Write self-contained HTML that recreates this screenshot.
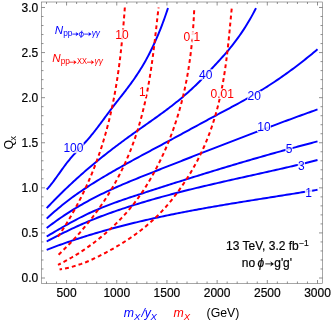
<!DOCTYPE html>
<html><head><meta charset="utf-8"><title>plot</title>
<style>html,body{margin:0;padding:0;background:#fff;}svg{display:block;will-change:transform;}text{font-family:"Liberation Sans",sans-serif;}</style></head><body>
<svg width="332" height="324" viewBox="0 0 332 324">
<rect width="332" height="324" fill="#fff"/>
<g fill="none" stroke="#0000ff" stroke-width="1.95" stroke-linecap="butt" stroke-linejoin="round">
<path d="M46.70,189.47 L47.57,188.55 L48.45,187.59 L49.32,186.58 L50.19,185.54 L51.06,184.47 L51.94,183.36 L52.81,182.23 L53.68,181.07 L54.55,179.89 L55.43,178.70 L56.30,177.49 L57.17,176.27 L58.04,175.05 L58.92,173.82 L59.79,172.59 L60.66,171.36 L61.54,170.13 L62.41,168.92 L63.28,167.71 L64.15,166.51 L65.03,165.33 L65.90,164.17 L66.77,163.03 L67.64,161.92 L68.52,160.83 L69.39,159.76 L70.26,158.71 L71.13,157.69 L72.01,156.67 L72.88,155.68 L73.75,154.70 L74.63,153.73 L75.50,152.77 L76.37,151.82 L77.24,150.88 L78.12,149.95 L78.99,149.02 L79.86,148.09 L80.73,147.16 L81.61,146.23 L82.48,145.30 L83.35,144.36 L84.22,143.42 L85.10,142.47 L85.97,141.52 L86.84,140.55 L87.72,139.57 L88.59,138.57 L89.46,137.56 L90.33,136.53 L91.21,135.48 L92.08,134.42 L92.95,133.34 L93.82,132.24 L94.70,131.14 L95.57,130.02 L96.44,128.88 L97.31,127.74 L98.19,126.59 L99.06,125.43 L99.93,124.26 L100.81,123.09 L101.68,121.92 L102.55,120.73 L103.42,119.55 L104.30,118.37 L105.17,117.18 L106.04,116.00 L106.91,114.82 L107.79,113.64 L108.66,112.47 L109.53,111.30 L110.40,110.14 L111.28,108.99 L112.15,107.84 L113.02,106.70 L113.89,105.57 L114.77,104.45 L115.64,103.33 L116.51,102.21 L117.39,101.10 L118.26,99.99 L119.13,98.88 L120.00,97.77 L120.88,96.66 L121.75,95.54 L122.62,94.43 L123.49,93.31 L124.37,92.18 L125.24,91.05 L126.11,89.91 L126.98,88.77 L127.86,87.61 L128.73,86.45 L129.60,85.27 L130.48,84.09 L131.35,82.89 L132.22,81.67 L133.09,80.45 L133.97,79.20 L134.84,77.94 L135.71,76.66 L136.58,75.37 L137.46,74.05 L138.33,72.71 L139.20,71.36 L140.07,69.98 L140.95,68.57 L141.82,67.14 L142.69,65.69 L143.57,64.21 L144.44,62.70 L145.31,61.16 L146.18,59.60 L147.06,58.00 L147.93,56.38 L148.80,54.72 L149.67,53.02 L150.55,51.30 L151.42,49.53 L152.29,47.74 L153.16,45.90 L154.04,44.03 L154.91,42.11 L155.78,40.16 L156.66,38.17 L157.53,36.13 L158.40,34.05 L159.27,31.93 L160.15,29.76 L161.02,27.54 L161.89,25.28 L162.76,22.97 L163.64,20.62 L164.51,18.21 L165.38,15.75 L166.25,13.24 L167.13,10.67 L168.00,8.06"/>
<path d="M46.70,208.15 L48.21,206.54 L49.71,204.96 L51.22,203.38 L52.72,201.82 L54.23,200.27 L55.73,198.74 L57.24,197.22 L58.75,195.71 L60.25,194.22 L61.76,192.73 L63.26,191.26 L64.77,189.80 L66.27,188.36 L67.78,186.92 L69.29,185.50 L70.79,184.09 L72.30,182.69 L73.80,181.30 L75.31,179.93 L76.82,178.56 L78.32,177.20 L79.83,175.86 L81.33,174.52 L82.84,173.20 L84.34,171.89 L85.85,170.58 L87.36,169.29 L88.86,168.00 L90.37,166.72 L91.87,165.46 L93.38,164.20 L94.88,162.95 L96.39,161.71 L97.90,160.48 L99.40,159.26 L100.91,158.04 L102.41,156.83 L103.92,155.63 L105.42,154.44 L106.93,153.26 L108.44,152.08 L109.94,150.91 L111.45,149.75 L112.95,148.59 L114.46,147.45 L115.96,146.30 L117.47,145.17 L118.98,144.04 L120.48,142.91 L121.99,141.79 L123.49,140.68 L125.00,139.57 L126.51,138.47 L128.01,137.37 L129.52,136.28 L131.02,135.20 L132.53,134.11 L134.03,133.04 L135.54,131.96 L137.05,130.89 L138.55,129.83 L140.06,128.76 L141.56,127.70 L143.07,126.65 L144.57,125.59 L146.08,124.53 L147.59,123.47 L149.09,122.41 L150.60,121.35 L152.10,120.29 L153.61,119.22 L155.11,118.15 L156.62,117.08 L158.13,116.00 L159.63,114.91 L161.14,113.82 L162.64,112.72 L164.15,111.61 L165.65,110.49 L167.16,109.37 L168.67,108.23 L170.17,107.08 L171.68,105.92 L173.18,104.75 L174.69,103.56 L176.19,102.36 L177.70,101.15 L179.21,99.92 L180.71,98.67 L182.22,97.41 L183.72,96.13 L185.23,94.83 L186.74,93.52 L188.24,92.18 L189.75,90.82 L191.25,89.45 L192.76,88.05 L194.26,86.63 L195.77,85.18 L197.28,83.72 L198.78,82.22 L200.29,80.71 L201.79,79.16 L203.30,77.60 L204.80,76.03 L206.31,74.44 L207.82,72.83 L209.32,71.23 L210.83,69.62 L212.33,68.00 L213.84,66.39 L215.34,64.77 L216.85,63.15 L218.36,61.51 L219.86,59.87 L221.37,58.20 L222.87,56.52 L224.38,54.81 L225.88,53.08 L227.39,51.32 L228.90,49.52 L230.40,47.69 L231.91,45.82 L233.41,43.92 L234.92,41.96 L236.43,39.96 L237.93,37.91 L239.44,35.80 L240.94,33.64 L242.45,31.41 L243.95,29.13 L245.46,26.77 L246.97,24.35 L248.47,21.85 L249.98,19.27 L251.48,16.61 L252.99,13.86 L254.49,11.03 L256.00,8.10"/>
<path d="M46.70,218.63 L48.65,216.82 L50.60,215.04 L52.54,213.30 L54.49,211.59 L56.44,209.91 L58.39,208.27 L60.34,206.65 L62.29,205.07 L64.23,203.52 L66.18,201.99 L68.13,200.49 L70.08,199.02 L72.03,197.58 L73.97,196.15 L75.92,194.76 L77.87,193.38 L79.82,192.03 L81.77,190.69 L83.72,189.38 L85.66,188.08 L87.61,186.81 L89.56,185.55 L91.51,184.30 L93.46,183.08 L95.41,181.86 L97.35,180.66 L99.30,179.47 L101.25,178.29 L103.20,177.12 L105.15,175.97 L107.09,174.82 L109.04,173.67 L110.99,172.54 L112.94,171.41 L114.89,170.30 L116.84,169.18 L118.78,168.08 L120.73,166.98 L122.68,165.88 L124.63,164.80 L126.58,163.71 L128.52,162.64 L130.47,161.56 L132.42,160.50 L134.37,159.43 L136.32,158.37 L138.27,157.31 L140.21,156.26 L142.16,155.21 L144.11,154.16 L146.06,153.11 L148.01,152.06 L149.95,151.02 L151.90,149.98 L153.85,148.94 L155.80,147.89 L157.75,146.85 L159.70,145.81 L161.64,144.77 L163.59,143.72 L165.54,142.68 L167.49,141.64 L169.44,140.59 L171.38,139.54 L173.33,138.49 L175.28,137.43 L177.23,136.38 L179.18,135.32 L181.13,134.27 L183.07,133.21 L185.02,132.15 L186.97,131.09 L188.92,130.03 L190.87,128.98 L192.82,127.92 L194.76,126.86 L196.71,125.80 L198.66,124.74 L200.61,123.69 L202.56,122.63 L204.50,121.58 L206.45,120.52 L208.40,119.47 L210.35,118.42 L212.30,117.38 L214.25,116.33 L216.19,115.29 L218.14,114.25 L220.09,113.21 L222.04,112.17 L223.99,111.14 L225.93,110.10 L227.88,109.06 L229.83,108.02 L231.78,106.97 L233.73,105.93 L235.68,104.87 L237.62,103.82 L239.57,102.75 L241.52,101.68 L243.47,100.60 L245.42,99.52 L247.36,98.42 L249.31,97.31 L251.26,96.20 L253.21,95.07 L255.16,93.93 L257.11,92.78 L259.05,91.61 L261.00,90.43 L262.95,89.23 L264.90,88.02 L266.85,86.80 L268.79,85.55 L270.74,84.30 L272.69,83.02 L274.64,81.73 L276.59,80.43 L278.54,79.10 L280.48,77.77 L282.43,76.41 L284.38,75.04 L286.33,73.65 L288.28,72.24 L290.23,70.82 L292.17,69.39 L294.12,67.93 L296.07,66.46 L298.02,64.98 L299.97,63.48 L301.91,61.96 L303.86,60.43 L305.81,58.88 L307.76,57.31 L309.71,55.73 L311.66,54.14 L313.60,52.53 L315.55,50.90 L317.50,49.26"/>
<path d="M46.70,228.06 L48.65,226.55 L50.60,225.07 L52.54,223.61 L54.49,222.18 L56.44,220.77 L58.39,219.38 L60.34,218.03 L62.29,216.69 L64.23,215.38 L66.18,214.09 L68.13,212.82 L70.08,211.58 L72.03,210.36 L73.97,209.16 L75.92,207.97 L77.87,206.81 L79.82,205.67 L81.77,204.55 L83.72,203.44 L85.66,202.35 L87.61,201.28 L89.56,200.23 L91.51,199.20 L93.46,198.18 L95.41,197.17 L97.35,196.18 L99.30,195.21 L101.25,194.24 L103.20,193.30 L105.15,192.36 L107.09,191.44 L109.04,190.53 L110.99,189.63 L112.94,188.74 L114.89,187.87 L116.84,187.00 L118.78,186.14 L120.73,185.29 L122.68,184.46 L124.63,183.62 L126.58,182.80 L128.52,181.98 L130.47,181.17 L132.42,180.37 L134.37,179.57 L136.32,178.78 L138.27,177.99 L140.21,177.20 L142.16,176.42 L144.11,175.64 L146.06,174.87 L148.01,174.10 L149.95,173.33 L151.90,172.56 L153.85,171.79 L155.80,171.02 L157.75,170.25 L159.70,169.48 L161.64,168.71 L163.59,167.94 L165.54,167.17 L167.49,166.41 L169.44,165.64 L171.38,164.87 L173.33,164.10 L175.28,163.34 L177.23,162.57 L179.18,161.81 L181.13,161.04 L183.07,160.27 L185.02,159.51 L186.97,158.74 L188.92,157.98 L190.87,157.22 L192.82,156.45 L194.76,155.69 L196.71,154.93 L198.66,154.17 L200.61,153.40 L202.56,152.64 L204.50,151.88 L206.45,151.12 L208.40,150.37 L210.35,149.61 L212.30,148.85 L214.25,148.09 L216.19,147.34 L218.14,146.58 L220.09,145.83 L222.04,145.07 L223.99,144.32 L225.93,143.57 L227.88,142.82 L229.83,142.06 L231.78,141.31 L233.73,140.57 L235.68,139.82 L237.62,139.07 L239.57,138.32 L241.52,137.58 L243.47,136.83 L245.42,136.09 L247.36,135.35 L249.31,134.61 L251.26,133.87 L253.21,133.13 L255.16,132.39 L257.11,131.65 L259.05,130.91 L261.00,130.18 L262.95,129.45 L264.90,128.71 L266.85,127.98 L268.79,127.25 L270.74,126.52 L272.69,125.79 L274.64,125.07 L276.59,124.34 L278.54,123.62 L280.48,122.89 L282.43,122.17 L284.38,121.45 L286.33,120.73 L288.28,120.02 L290.23,119.30 L292.17,118.59 L294.12,117.87 L296.07,117.16 L298.02,116.45 L299.97,115.74 L301.91,115.04 L303.86,114.33 L305.81,113.63 L307.76,112.93 L309.71,112.22 L311.66,111.53 L313.60,110.83 L315.55,110.13 L317.50,109.44"/>
<path d="M46.70,236.52 L48.65,235.36 L50.60,234.20 L52.54,233.05 L54.49,231.90 L56.44,230.75 L58.39,229.61 L60.34,228.48 L62.29,227.35 L64.23,226.23 L66.18,225.13 L68.13,224.03 L70.08,222.95 L72.03,221.88 L73.97,220.82 L75.92,219.78 L77.87,218.75 L79.82,217.75 L81.77,216.76 L83.72,215.79 L85.66,214.84 L87.61,213.91 L89.56,213.00 L91.51,212.11 L93.46,211.24 L95.41,210.38 L97.35,209.55 L99.30,208.73 L101.25,207.92 L103.20,207.14 L105.15,206.36 L107.09,205.60 L109.04,204.86 L110.99,204.12 L112.94,203.40 L114.89,202.68 L116.84,201.98 L118.78,201.29 L120.73,200.61 L122.68,199.93 L124.63,199.26 L126.58,198.60 L128.52,197.94 L130.47,197.29 L132.42,196.64 L134.37,196.00 L136.32,195.36 L138.27,194.72 L140.21,194.09 L142.16,193.45 L144.11,192.82 L146.06,192.19 L148.01,191.55 L149.95,190.92 L151.90,190.29 L153.85,189.66 L155.80,189.03 L157.75,188.40 L159.70,187.78 L161.64,187.15 L163.59,186.53 L165.54,185.90 L167.49,185.28 L169.44,184.66 L171.38,184.04 L173.33,183.42 L175.28,182.80 L177.23,182.18 L179.18,181.56 L181.13,180.95 L183.07,180.33 L185.02,179.72 L186.97,179.10 L188.92,178.49 L190.87,177.88 L192.82,177.27 L194.76,176.67 L196.71,176.06 L198.66,175.46 L200.61,174.85 L202.56,174.25 L204.50,173.65 L206.45,173.05 L208.40,172.45 L210.35,171.85 L212.30,171.25 L214.25,170.66 L216.19,170.07 L218.14,169.47 L220.09,168.88 L222.04,168.29 L223.99,167.70 L225.93,167.12 L227.88,166.53 L229.83,165.95 L231.78,165.37 L233.73,164.79 L235.68,164.21 L237.62,163.63 L239.57,163.05 L241.52,162.48 L243.47,161.91 L245.42,161.33 L247.36,160.76 L249.31,160.20 L251.26,159.63 L253.21,159.06 L255.16,158.50 L257.11,157.94 L259.05,157.38 L261.00,156.82 L262.95,156.26 L264.90,155.71 L266.85,155.15 L268.79,154.60 L270.74,154.05 L272.69,153.50 L274.64,152.96 L276.59,152.41 L278.54,151.87 L280.48,151.33 L282.43,150.79 L284.38,150.25 L286.33,149.72 L288.28,149.19 L290.23,148.65 L292.17,148.12 L294.12,147.60 L296.07,147.07 L298.02,146.55 L299.97,146.02 L301.91,145.51 L303.86,144.99 L305.81,144.47 L307.76,143.96 L309.71,143.45 L311.66,142.94 L313.60,142.43 L315.55,141.92 L317.50,141.42"/>
<path d="M46.70,241.51 L48.65,240.48 L50.60,239.45 L52.54,238.43 L54.49,237.42 L56.44,236.41 L58.39,235.42 L60.34,234.43 L62.29,233.45 L64.23,232.48 L66.18,231.52 L68.13,230.57 L70.08,229.64 L72.03,228.71 L73.97,227.79 L75.92,226.89 L77.87,226.00 L79.82,225.12 L81.77,224.25 L83.72,223.40 L85.66,222.56 L87.61,221.73 L89.56,220.92 L91.51,220.12 L93.46,219.33 L95.41,218.55 L97.35,217.78 L99.30,217.03 L101.25,216.28 L103.20,215.55 L105.15,214.82 L107.09,214.11 L109.04,213.40 L110.99,212.71 L112.94,212.02 L114.89,211.34 L116.84,210.67 L118.78,210.00 L120.73,209.35 L122.68,208.70 L124.63,208.05 L126.58,207.41 L128.52,206.78 L130.47,206.16 L132.42,205.54 L134.37,204.93 L136.32,204.32 L138.27,203.72 L140.21,203.13 L142.16,202.54 L144.11,201.95 L146.06,201.37 L148.01,200.80 L149.95,200.23 L151.90,199.67 L153.85,199.11 L155.80,198.56 L157.75,198.01 L159.70,197.47 L161.64,196.93 L163.59,196.40 L165.54,195.87 L167.49,195.34 L169.44,194.82 L171.38,194.30 L173.33,193.79 L175.28,193.28 L177.23,192.78 L179.18,192.27 L181.13,191.78 L183.07,191.28 L185.02,190.79 L186.97,190.30 L188.92,189.82 L190.87,189.34 L192.82,188.86 L194.76,188.39 L196.71,187.91 L198.66,187.44 L200.61,186.98 L202.56,186.51 L204.50,186.05 L206.45,185.59 L208.40,185.14 L210.35,184.68 L212.30,184.23 L214.25,183.78 L216.19,183.33 L218.14,182.88 L220.09,182.43 L222.04,181.99 L223.99,181.55 L225.93,181.11 L227.88,180.67 L229.83,180.23 L231.78,179.79 L233.73,179.35 L235.68,178.92 L237.62,178.48 L239.57,178.05 L241.52,177.61 L243.47,177.18 L245.42,176.75 L247.36,176.31 L249.31,175.88 L251.26,175.45 L253.21,175.02 L255.16,174.58 L257.11,174.15 L259.05,173.72 L261.00,173.28 L262.95,172.85 L264.90,172.41 L266.85,171.98 L268.79,171.54 L270.74,171.10 L272.69,170.67 L274.64,170.23 L276.59,169.79 L278.54,169.34 L280.48,168.90 L282.43,168.46 L284.38,168.01 L286.33,167.56 L288.28,167.11 L290.23,166.66 L292.17,166.20 L294.12,165.75 L296.07,165.29 L298.02,164.83 L299.97,164.37 L301.91,163.90 L303.86,163.43 L305.81,162.96 L307.76,162.49 L309.71,162.01 L311.66,161.53 L313.60,161.05 L315.55,160.56 L317.50,160.07"/>
<path d="M46.70,249.82 L48.65,249.07 L50.60,248.33 L52.54,247.60 L54.49,246.88 L56.44,246.16 L58.39,245.45 L60.34,244.75 L62.29,244.06 L64.23,243.37 L66.18,242.69 L68.13,242.02 L70.08,241.35 L72.03,240.69 L73.97,240.04 L75.92,239.39 L77.87,238.75 L79.82,238.12 L81.77,237.49 L83.72,236.87 L85.66,236.26 L87.61,235.65 L89.56,235.05 L91.51,234.46 L93.46,233.87 L95.41,233.29 L97.35,232.71 L99.30,232.14 L101.25,231.57 L103.20,231.01 L105.15,230.46 L107.09,229.91 L109.04,229.37 L110.99,228.83 L112.94,228.30 L114.89,227.78 L116.84,227.26 L118.78,226.74 L120.73,226.23 L122.68,225.72 L124.63,225.22 L126.58,224.73 L128.52,224.24 L130.47,223.75 L132.42,223.27 L134.37,222.80 L136.32,222.33 L138.27,221.86 L140.21,221.40 L142.16,220.94 L144.11,220.49 L146.06,220.04 L148.01,219.59 L149.95,219.15 L151.90,218.72 L153.85,218.29 L155.80,217.86 L157.75,217.43 L159.70,217.01 L161.64,216.60 L163.59,216.18 L165.54,215.77 L167.49,215.37 L169.44,214.97 L171.38,214.57 L173.33,214.17 L175.28,213.78 L177.23,213.39 L179.18,213.01 L181.13,212.62 L183.07,212.25 L185.02,211.87 L186.97,211.50 L188.92,211.13 L190.87,210.76 L192.82,210.39 L194.76,210.03 L196.71,209.67 L198.66,209.32 L200.61,208.96 L202.56,208.61 L204.50,208.26 L206.45,207.91 L208.40,207.57 L210.35,207.22 L212.30,206.88 L214.25,206.54 L216.19,206.21 L218.14,205.87 L220.09,205.54 L222.04,205.21 L223.99,204.88 L225.93,204.55 L227.88,204.22 L229.83,203.90 L231.78,203.58 L233.73,203.25 L235.68,202.93 L237.62,202.61 L239.57,202.29 L241.52,201.98 L243.47,201.66 L245.42,201.35 L247.36,201.03 L249.31,200.72 L251.26,200.41 L253.21,200.09 L255.16,199.78 L257.11,199.47 L259.05,199.16 L261.00,198.85 L262.95,198.54 L264.90,198.23 L266.85,197.92 L268.79,197.62 L270.74,197.31 L272.69,197.00 L274.64,196.69 L276.59,196.38 L278.54,196.07 L280.48,195.76 L282.43,195.45 L284.38,195.14 L286.33,194.83 L288.28,194.52 L290.23,194.21 L292.17,193.90 L294.12,193.59 L296.07,193.28 L298.02,192.96 L299.97,192.65 L301.91,192.33 L303.86,192.02 L305.81,191.70 L307.76,191.38 L309.71,191.06 L311.66,190.74 L313.60,190.42 L315.55,190.09 L317.50,189.77"/>
</g>
<g fill="none" stroke="#ff0000" stroke-width="2.0" stroke-dasharray="3.9 3.1" stroke-linejoin="round">
<path d="M124.85,7.50 L124.72,9.15 L124.60,10.81 L124.47,12.46 L124.34,14.12 L124.21,15.77 L124.08,17.42 L123.95,19.08 L123.81,20.73 L123.67,22.39 L123.54,24.04 L123.39,25.69 L123.25,27.35 L123.11,29.00 L122.96,30.66 L122.81,32.31 L122.65,33.96 L122.50,35.62 L122.34,37.27 L122.18,38.93 L122.02,40.58 L121.85,42.23 L121.68,43.89 L121.51,45.54 L121.33,47.19 L121.15,48.85 L120.97,50.50 L120.79,52.16 L120.60,53.81 L120.40,55.46 L120.21,57.12 L120.01,58.77 L119.80,60.43 L119.60,62.08 L119.38,63.73 L119.17,65.39 L118.95,67.04 L118.72,68.70 L118.49,70.35 L118.26,72.00 L118.02,73.66 L117.78,75.31 L117.53,76.97 L117.28,78.62 L117.02,80.27 L116.76,81.93 L116.49,83.58 L116.22,85.24 L115.94,86.89 L115.66,88.54 L115.37,90.20 L115.08,91.85 L114.78,93.51 L114.47,95.16 L114.16,96.81 L113.84,98.47 L113.52,100.12 L113.19,101.78 L112.86,103.43 L112.52,105.08 L112.17,106.74 L111.82,108.39 L111.46,110.05 L111.09,111.70 L110.72,113.35 L110.34,115.01 L109.95,116.66 L109.56,118.32 L109.15,119.97 L108.75,121.62 L108.33,123.28 L107.91,124.93 L107.48,126.58 L107.04,128.24 L106.60,129.89 L106.15,131.55 L105.69,133.20 L105.22,134.85 L104.75,136.51 L104.26,138.16 L103.77,139.82 L103.27,141.47 L102.77,143.12 L102.25,144.78 L101.73,146.43 L101.19,148.09 L100.65,149.74 L100.10,151.39 L99.55,153.05 L98.98,154.70 L98.40,156.36 L97.82,158.01 L97.23,159.66 L96.62,161.32 L96.01,162.97 L95.39,164.63 L94.76,166.28 L94.12,167.93 L93.47,169.59 L92.81,171.24 L92.14,172.90 L91.46,174.55 L90.77,176.20 L90.07,177.86 L89.37,179.51 L88.65,181.17 L87.92,182.82 L87.18,184.47 L86.43,186.13 L85.67,187.78 L84.90,189.44 L84.11,191.09 L83.32,192.74 L82.52,194.40 L81.70,196.05 L80.88,197.71 L80.04,199.36 L79.20,201.01 L78.34,202.67 L77.47,204.32 L76.59,205.97 L75.69,207.63 L74.79,209.28 L73.87,210.94 L72.94,212.59 L72.00,214.24 L71.05,215.90 L70.09,217.55 L69.11,219.21 L68.12,220.86 L67.12,222.51 L66.11,224.17 L65.08,225.82 L64.04,227.48 L62.99,229.13 L61.93,230.78 L60.85,232.44 L59.76,234.09 L58.66,235.75 L57.55,237.40" stroke-dashoffset="0.0"/>
<path d="M158.55,7.50 L158.35,9.28 L158.14,11.06 L157.94,12.85 L157.74,14.63 L157.54,16.41 L157.34,18.19 L157.14,19.97 L156.94,21.76 L156.74,23.54 L156.54,25.32 L156.34,27.10 L156.14,28.88 L155.94,30.67 L155.73,32.45 L155.53,34.23 L155.33,36.01 L155.12,37.79 L154.91,39.58 L154.70,41.36 L154.49,43.14 L154.28,44.92 L154.06,46.70 L153.84,48.49 L153.62,50.27 L153.40,52.05 L153.17,53.83 L152.94,55.61 L152.70,57.40 L152.46,59.18 L152.22,60.96 L151.97,62.74 L151.72,64.52 L151.46,66.31 L151.20,68.09 L150.94,69.87 L150.66,71.65 L150.39,73.43 L150.11,75.22 L149.82,77.00 L149.52,78.78 L149.22,80.56 L148.92,82.34 L148.60,84.13 L148.28,85.91 L147.96,87.69 L147.62,89.47 L147.28,91.25 L146.93,93.04 L146.58,94.82 L146.21,96.60 L145.84,98.38 L145.46,100.16 L145.07,101.95 L144.67,103.73 L144.26,105.51 L143.85,107.29 L143.42,109.07 L142.98,110.86 L142.54,112.64 L142.08,114.42 L141.62,116.20 L141.15,117.98 L140.66,119.77 L140.16,121.55 L139.66,123.33 L139.14,125.11 L138.61,126.89 L138.07,128.68 L137.52,130.46 L136.95,132.24 L136.38,134.02 L135.79,135.81 L135.19,137.59 L134.57,139.37 L133.95,141.15 L133.31,142.93 L132.65,144.72 L131.99,146.50 L131.31,148.28 L130.61,150.06 L129.91,151.84 L129.19,153.63 L128.45,155.41 L127.70,157.19 L126.93,158.97 L126.15,160.75 L125.36,162.54 L124.55,164.32 L123.72,166.10 L122.88,167.88 L122.02,169.66 L121.15,171.45 L120.26,173.23 L119.35,175.01 L118.43,176.79 L117.49,178.57 L116.53,180.36 L115.55,182.14 L114.56,183.92 L113.55,185.70 L112.52,187.48 L111.48,189.27 L110.41,191.05 L109.33,192.83 L108.23,194.61 L107.11,196.39 L105.97,198.18 L104.81,199.96 L103.63,201.74 L102.43,203.52 L101.22,205.30 L99.98,207.09 L98.72,208.87 L97.44,210.65 L96.14,212.43 L94.82,214.21 L93.48,216.00 L92.12,217.78 L90.74,219.56 L89.33,221.34 L87.90,223.12 L86.45,224.91 L84.97,226.69 L83.48,228.47 L81.95,230.25 L80.41,232.03 L78.84,233.82 L77.25,235.60 L75.63,237.38 L73.98,239.16 L72.32,240.94 L70.62,242.73 L68.90,244.51 L67.15,246.29 L65.38,248.07 L63.58,249.85 L61.75,251.64 L59.90,253.42 L58.02,255.20" stroke-dashoffset="3.1"/>
<path d="M194.30,7.50 L194.22,9.35 L194.14,11.20 L194.05,13.06 L193.96,14.91 L193.86,16.76 L193.75,18.61 L193.64,20.46 L193.53,22.31 L193.41,24.17 L193.28,26.02 L193.15,27.87 L193.01,29.72 L192.87,31.57 L192.72,33.43 L192.57,35.28 L192.41,37.13 L192.24,38.98 L192.06,40.83 L191.88,42.68 L191.69,44.54 L191.50,46.39 L191.29,48.24 L191.08,50.09 L190.86,51.94 L190.64,53.79 L190.41,55.65 L190.16,57.50 L189.92,59.35 L189.66,61.20 L189.39,63.05 L189.12,64.91 L188.84,66.76 L188.54,68.61 L188.24,70.46 L187.94,72.31 L187.62,74.16 L187.29,76.02 L186.95,77.87 L186.61,79.72 L186.25,81.57 L185.89,83.42 L185.51,85.28 L185.12,87.13 L184.73,88.98 L184.32,90.83 L183.91,92.68 L183.48,94.53 L183.04,96.39 L182.59,98.24 L182.13,100.09 L181.66,101.94 L181.18,103.79 L180.68,105.65 L180.18,107.50 L179.66,109.35 L179.13,111.20 L178.59,113.05 L178.04,114.90 L177.48,116.76 L176.90,118.61 L176.31,120.46 L175.71,122.31 L175.09,124.16 L174.46,126.02 L173.82,127.87 L173.17,129.72 L172.50,131.57 L171.82,133.42 L171.12,135.27 L170.41,137.13 L169.69,138.98 L168.96,140.83 L168.21,142.68 L167.44,144.53 L166.66,146.38 L165.87,148.24 L165.06,150.09 L164.24,151.94 L163.40,153.79 L162.55,155.64 L161.68,157.50 L160.79,159.35 L159.89,161.20 L158.98,163.05 L158.05,164.90 L157.10,166.75 L156.14,168.61 L155.16,170.46 L154.17,172.31 L153.15,174.16 L152.12,176.01 L151.08,177.87 L150.01,179.72 L148.92,181.57 L147.81,183.42 L146.67,185.27 L145.51,187.12 L144.33,188.98 L143.12,190.83 L141.88,192.68 L140.61,194.53 L139.31,196.38 L137.99,198.24 L136.62,200.09 L135.23,201.94 L133.80,203.79 L132.34,205.64 L130.84,207.49 L129.30,209.35 L127.72,211.20 L126.10,213.05 L124.45,214.90 L122.75,216.75 L121.00,218.61 L119.21,220.46 L117.38,222.31 L115.50,224.16 L113.57,226.01 L111.59,227.86 L109.57,229.72 L107.49,231.57 L105.36,233.42 L103.18,235.27 L100.94,237.12 L98.64,238.97 L96.29,240.83 L93.89,242.68 L91.41,244.53 L88.86,246.38 L86.24,248.23 L83.53,250.09 L80.73,251.94 L77.83,253.79 L74.83,255.64 L71.71,257.49 L68.48,259.34 L65.12,261.20 L61.63,263.05 L58.01,264.90" stroke-dashoffset="-2.8"/>
<path d="M231.82,7.50 L231.64,9.38 L231.45,11.27 L231.27,13.15 L231.09,15.04 L230.91,16.92 L230.73,18.81 L230.55,20.69 L230.37,22.58 L230.19,24.46 L230.01,26.35 L229.83,28.23 L229.65,30.12 L229.46,32.00 L229.28,33.89 L229.09,35.77 L228.90,37.66 L228.71,39.54 L228.51,41.43 L228.31,43.31 L228.11,45.20 L227.90,47.08 L227.69,48.97 L227.48,50.85 L227.26,52.74 L227.04,54.62 L226.81,56.51 L226.57,58.39 L226.33,60.28 L226.08,62.16 L225.83,64.05 L225.57,65.93 L225.30,67.82 L225.03,69.70 L224.75,71.59 L224.46,73.47 L224.16,75.36 L223.86,77.24 L223.54,79.13 L223.22,81.01 L222.88,82.90 L222.54,84.78 L222.19,86.67 L221.82,88.55 L221.45,90.44 L221.07,92.32 L220.67,94.21 L220.26,96.09 L219.85,97.97 L219.42,99.86 L218.97,101.74 L218.52,103.63 L218.05,105.51 L217.57,107.40 L217.07,109.28 L216.57,111.17 L216.04,113.05 L215.51,114.94 L214.96,116.82 L214.39,118.71 L213.81,120.59 L213.21,122.48 L212.60,124.36 L211.97,126.25 L211.33,128.13 L210.66,130.02 L209.99,131.90 L209.29,133.79 L208.58,135.67 L207.85,137.56 L207.10,139.44 L206.33,141.33 L205.55,143.21 L204.74,145.10 L203.92,146.98 L203.07,148.87 L202.21,150.75 L201.33,152.64 L200.42,154.52 L199.50,156.41 L198.55,158.29 L197.58,160.18 L196.60,162.06 L195.58,163.95 L194.55,165.83 L193.50,167.72 L192.42,169.60 L191.32,171.49 L190.19,173.37 L189.05,175.26 L187.87,177.14 L186.68,179.03 L185.46,180.91 L184.21,182.79 L182.94,184.68 L181.65,186.56 L180.32,188.45 L178.98,190.33 L177.60,192.22 L176.20,194.10 L174.77,195.99 L173.32,197.87 L171.82,199.76 L170.30,201.64 L168.73,203.53 L167.12,205.41 L165.47,207.30 L163.77,209.18 L162.03,211.07 L160.23,212.95 L158.38,214.84 L156.47,216.72 L154.50,218.61 L152.47,220.49 L150.38,222.38 L148.22,224.26 L145.99,226.15 L143.68,228.03 L141.31,229.92 L138.85,231.80 L136.31,233.69 L133.69,235.57 L130.99,237.46 L128.19,239.34 L125.31,241.23 L122.33,243.11 L119.26,245.00 L116.09,246.88 L112.81,248.77 L109.43,250.65 L105.95,252.54 L102.36,254.42 L98.65,256.31 L94.83,258.19 L90.80,260.08 L86.39,261.96 L81.43,263.85 L75.76,265.73 L69.15,267.62 L59.58,269.50" stroke-dashoffset="-1.1"/>
</g>
<g font-size="12" text-anchor="middle">
<rect x="63.10" y="142.80" width="20.61" height="10.4" fill="#fff" fill-opacity="0.82"/><text x="73.4" y="152.30" fill="#0000ff">100</text>
<rect x="198.73" y="69.30" width="13.94" height="10.4" fill="#fff" fill-opacity="0.82"/><text x="205.7" y="78.80" fill="#0000ff">40</text>
<rect x="247.28" y="90.80" width="13.94" height="10.4" fill="#fff" fill-opacity="0.82"/><text x="254.25" y="100.30" fill="#0000ff">20</text>
<rect x="257.03" y="121.55" width="13.94" height="10.4" fill="#fff" fill-opacity="0.82"/><text x="264" y="131.05" fill="#0000ff">10</text>
<rect x="285.37" y="143.30" width="7.27" height="10.4" fill="#fff" fill-opacity="0.82"/><text x="289" y="152.80" fill="#0000ff">5</text>
<rect x="297.76" y="160.20" width="7.27" height="10.4" fill="#fff" fill-opacity="0.82"/><text x="301.4" y="169.70" fill="#0000ff">3</text>
<rect x="304.87" y="187.30" width="7.27" height="10.4" fill="#fff" fill-opacity="0.82"/><text x="308.5" y="196.80" fill="#0000ff">1</text>
<rect x="115.03" y="29.30" width="13.94" height="10.4" fill="#fff" fill-opacity="0.82"/><text x="122.0" y="38.80" fill="#ff0000">10</text>
<rect x="138.76" y="86.80" width="7.27" height="10.4" fill="#fff" fill-opacity="0.82"/><text x="142.4" y="96.30" fill="#ff0000">1</text>
<rect x="183.16" y="31.30" width="17.27" height="10.4" fill="#fff" fill-opacity="0.82"/><text x="191.8" y="40.80" fill="#ff0000">0.1</text>
<rect x="210.28" y="88.30" width="23.94" height="10.4" fill="#fff" fill-opacity="0.82"/><text x="222.25" y="97.80" fill="#ff0000">0.01</text>
</g>
<rect x="41.5" y="2.0" width="281.0" height="281.5" fill="none" stroke="#707070" stroke-width="0.62"/>
<g stroke="#555" stroke-width="0.66">
<path d="M46.50,283.5v-2.0M46.50,2.0v2.0"/>
<path d="M56.54,283.5v-2.0M56.54,2.0v2.0"/>
<path d="M66.57,283.5v-3.5M66.57,2.0v3.5"/>
<path d="M76.61,283.5v-2.0M76.61,2.0v2.0"/>
<path d="M86.65,283.5v-2.0M86.65,2.0v2.0"/>
<path d="M96.69,283.5v-2.0M96.69,2.0v2.0"/>
<path d="M106.72,283.5v-2.0M106.72,2.0v2.0"/>
<path d="M116.76,283.5v-3.5M116.76,2.0v3.5"/>
<path d="M126.80,283.5v-2.0M126.80,2.0v2.0"/>
<path d="M136.83,283.5v-2.0M136.83,2.0v2.0"/>
<path d="M146.87,283.5v-2.0M146.87,2.0v2.0"/>
<path d="M156.91,283.5v-2.0M156.91,2.0v2.0"/>
<path d="M166.94,283.5v-3.5M166.94,2.0v3.5"/>
<path d="M176.98,283.5v-2.0M176.98,2.0v2.0"/>
<path d="M187.02,283.5v-2.0M187.02,2.0v2.0"/>
<path d="M197.06,283.5v-2.0M197.06,2.0v2.0"/>
<path d="M207.09,283.5v-2.0M207.09,2.0v2.0"/>
<path d="M217.13,283.5v-3.5M217.13,2.0v3.5"/>
<path d="M227.17,283.5v-2.0M227.17,2.0v2.0"/>
<path d="M237.20,283.5v-2.0M237.20,2.0v2.0"/>
<path d="M247.24,283.5v-2.0M247.24,2.0v2.0"/>
<path d="M257.28,283.5v-2.0M257.28,2.0v2.0"/>
<path d="M267.31,283.5v-3.5M267.31,2.0v3.5"/>
<path d="M277.35,283.5v-2.0M277.35,2.0v2.0"/>
<path d="M287.39,283.5v-2.0M287.39,2.0v2.0"/>
<path d="M297.43,283.5v-2.0M297.43,2.0v2.0"/>
<path d="M307.46,283.5v-2.0M307.46,2.0v2.0"/>
<path d="M317.50,283.5v-3.5M317.50,2.0v3.5"/>
<path d="M41.5,278.00h3.5M322.5,278.00h-3.5"/>
<path d="M41.5,268.98h2.0M322.5,268.98h-2.0"/>
<path d="M41.5,259.97h2.0M322.5,259.97h-2.0"/>
<path d="M41.5,250.95h2.0M322.5,250.95h-2.0"/>
<path d="M41.5,241.93h2.0M322.5,241.93h-2.0"/>
<path d="M41.5,232.91h3.5M322.5,232.91h-3.5"/>
<path d="M41.5,223.90h2.0M322.5,223.90h-2.0"/>
<path d="M41.5,214.88h2.0M322.5,214.88h-2.0"/>
<path d="M41.5,205.86h2.0M322.5,205.86h-2.0"/>
<path d="M41.5,196.85h2.0M322.5,196.85h-2.0"/>
<path d="M41.5,187.83h3.5M322.5,187.83h-3.5"/>
<path d="M41.5,178.81h2.0M322.5,178.81h-2.0"/>
<path d="M41.5,169.80h2.0M322.5,169.80h-2.0"/>
<path d="M41.5,160.78h2.0M322.5,160.78h-2.0"/>
<path d="M41.5,151.76h2.0M322.5,151.76h-2.0"/>
<path d="M41.5,142.75h3.5M322.5,142.75h-3.5"/>
<path d="M41.5,133.73h2.0M322.5,133.73h-2.0"/>
<path d="M41.5,124.71h2.0M322.5,124.71h-2.0"/>
<path d="M41.5,115.69h2.0M322.5,115.69h-2.0"/>
<path d="M41.5,106.68h2.0M322.5,106.68h-2.0"/>
<path d="M41.5,97.66h3.5M322.5,97.66h-3.5"/>
<path d="M41.5,88.64h2.0M322.5,88.64h-2.0"/>
<path d="M41.5,79.63h2.0M322.5,79.63h-2.0"/>
<path d="M41.5,70.61h2.0M322.5,70.61h-2.0"/>
<path d="M41.5,61.59h2.0M322.5,61.59h-2.0"/>
<path d="M41.5,52.57h3.5M322.5,52.57h-3.5"/>
<path d="M41.5,43.56h2.0M322.5,43.56h-2.0"/>
<path d="M41.5,34.54h2.0M322.5,34.54h-2.0"/>
<path d="M41.5,25.52h2.0M322.5,25.52h-2.0"/>
<path d="M41.5,16.51h2.0M322.5,16.51h-2.0"/>
<path d="M41.5,7.49h3.5M322.5,7.49h-3.5"/>
</g>
<g font-size="12" fill="#000" stroke="#000" stroke-width="0.18">
<text x="66.57" y="297.2" text-anchor="middle">500</text>
<text x="116.76" y="297.2" text-anchor="middle">1000</text>
<text x="166.94" y="297.2" text-anchor="middle">1500</text>
<text x="217.13" y="297.2" text-anchor="middle">2000</text>
<text x="267.31" y="297.2" text-anchor="middle">2500</text>
<text x="317.50" y="297.2" text-anchor="middle">3000</text>
<text x="38.2" y="282.30" text-anchor="end">0.0</text>
<text x="38.2" y="237.22" text-anchor="end">0.5</text>
<text x="38.2" y="192.13" text-anchor="end">1.0</text>
<text x="38.2" y="147.05" text-anchor="end">1.5</text>
<text x="38.2" y="101.96" text-anchor="end">2.0</text>
<text x="38.2" y="56.87" text-anchor="end">2.5</text>
<text x="38.2" y="11.79" text-anchor="end">3.0</text>
</g>
<text font-size="12.3" fill="#000" transform="translate(12.8,149.6) rotate(-90)">Q<tspan font-size="9.5" dy="3.2" dx="-0.6">x</tspan></text>
<text font-size="12.3" y="316.6" font-style="italic"><tspan x="123.8" fill="#0000ff">m</tspan><tspan fill="#0000ff" font-size="9.5" dy="3">X</tspan><tspan fill="#0000ff" dy="-3" dx="1.0">/y</tspan><tspan fill="#0000ff" font-size="9.5" dy="3" dx="-0.5">X</tspan><tspan x="173.6" dy="-3" fill="#ff0000">m</tspan><tspan fill="#ff0000" font-size="9.5" dy="3">X</tspan><tspan x="206.6" dy="-3" fill="#000" font-style="normal">(GeV)</tspan></text>
<g fill="#0000ff"><text font-size="11.6" font-style="italic" x="54.7" y="33.7">N</text><text font-size="8.3" x="63.2" y="36.1">pp</text><ellipse cx="81.4" cy="34.3" rx="2.1" ry="2.21" fill="none" stroke="#0000ff" stroke-width="0.8"/><path d="M81.9,30.599999999999998L80.9,38.0" stroke="#0000ff" stroke-width="0.8" fill="none"/><text font-size="8.3" font-style="italic" x="91.7" y="36.1">γγ</text><path d="M72.30,34.10H77.48" stroke="#0000ff" stroke-width="0.83" fill="none"/><path d="M78.80,34.10l-3.19,-2.20l0.99,2.20l-0.99,2.20z" fill="#0000ff"/><path d="M84.20,34.10H90.18" stroke="#0000ff" stroke-width="0.83" fill="none"/><path d="M91.50,34.10l-3.19,-2.20l0.99,2.20l-0.99,2.20z" fill="#0000ff"/></g>
<g fill="#ff0000"><text font-size="11.6" font-style="italic" x="52.3" y="61.9">N</text><text font-size="8.3" x="60.7" y="64.2">pp</text><text font-size="8.3" x="76.9" y="64.2" textLength="10" lengthAdjust="spacingAndGlyphs">XX</text><text font-size="8.3" font-style="italic" x="94.5" y="64.2">γγ</text><path d="M69.00,62.20H75.28" stroke="#ff0000" stroke-width="0.83" fill="none"/><path d="M76.60,62.20l-3.19,-2.20l0.99,2.20l-0.99,2.20z" fill="#ff0000"/><path d="M87.00,62.20H92.78" stroke="#ff0000" stroke-width="0.83" fill="none"/><path d="M94.10,62.20l-3.19,-2.20l0.99,2.20l-0.99,2.20z" fill="#ff0000"/></g>
<text font-size="12" x="226" y="250.2" fill="#000" stroke="#000" stroke-width="0.18">13 TeV, 3.2 fb<tspan font-size="8.5" dy="-4.6" dx="0.4">−1</tspan></text>
<g fill="#000" stroke="#000" stroke-width="0.18"><text font-size="12" x="241.8" y="267.2">no</text><text font-size="12" font-style="italic" x="257.6" y="267.2">ϕ</text><text font-size="12" x="274.3" y="267.2" textLength="17.7" lengthAdjust="spacing">g'g'</text><path d="M265.30,263.90H272.42" stroke="#000" stroke-width="0.86" fill="none"/><path d="M273.80,263.90l-3.33,-2.30l1.03,2.30l-1.03,2.30z" fill="#000"/></g>
</svg></body></html>
